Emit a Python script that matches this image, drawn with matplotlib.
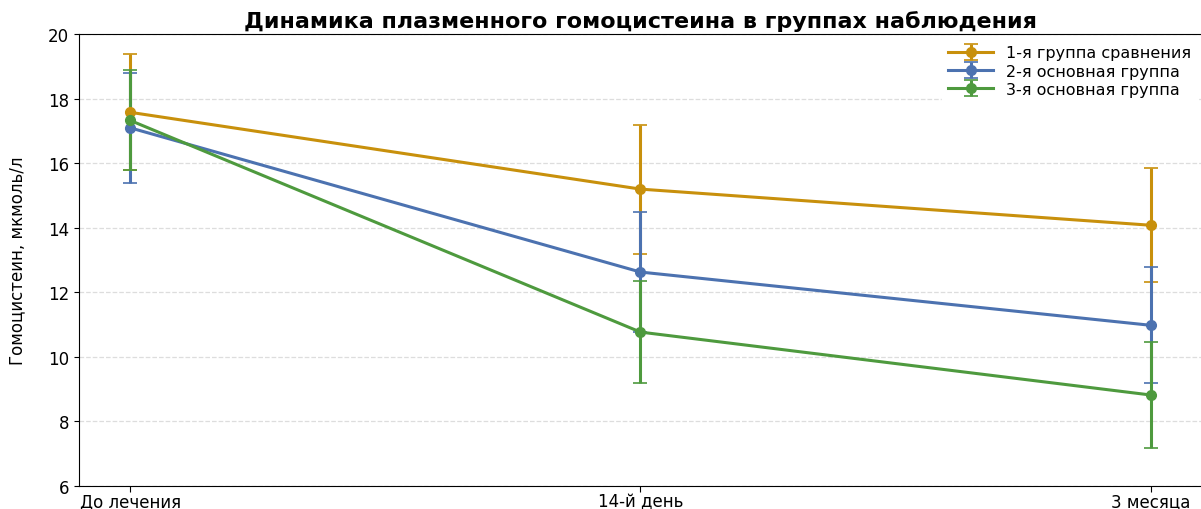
import numpy as np
import matplotlib.pyplot as plt

# Data
stages = ['До лечения', '14-й день', '3 месяца']
group_names = ['1-я группа сравнения', '2-я основная группа', '3-я основная группа']
group1_mean = [17.58, 15.2, 14.08]
group1_err = [1.8, 2.0, 1.76]
group2_mean = [17.1, 12.63, 10.98]
group2_err = [1.7, 1.85, 1.8]
group3_mean = [17.33, 10.77, 8.82]
group3_err = [1.55, 1.57, 1.64]
colors = ['#C8900C', '#4C72B0', '#4E9A3E']

x = np.arange(len(stages))

fig = plt.figure(figsize=(12.01, 5.10), dpi=100)
ax = fig.add_axes([0.0658, 0.045, 0.935, 0.886])

for mean, err, name, c in zip([group1_mean, group2_mean, group3_mean],
                              [group1_err, group2_err, group3_err],
                              group_names, colors):
    ax.errorbar(x, mean, yerr=err, color=c, marker='o', markersize=7,
                linewidth=2.2, elinewidth=2.2, capsize=5, capthick=1.2,
                label=name)

ax.set_xlim(-0.1, 2.1)
ax.set_ylim(6, 20)
ax.set_yticks(np.arange(6, 21, 2))
ax.set_xticks(x)
ax.set_xticklabels(stages, fontsize=12)
ax.tick_params(axis='x', length=4, pad=0.5)
ax.tick_params(axis='y', labelsize=12)
ax.set_ylabel('Гомоцистеин, мкмоль/л', fontsize=12, labelpad=16)
ax.yaxis.grid(True, linestyle='--', color='#dddddd', linewidth=0.9)
ax.set_axisbelow(True)
ax.set_title('Динамика плазменного гомоцистеина в группах наблюдения',
             fontsize=16, fontweight='bold', pad=5)

ax.legend(loc='upper right', fontsize=11.5, frameon=True, edgecolor='white',
          framealpha=1.0, handlelength=2.8, labelspacing=0.2,
          borderaxespad=0.3)

fig.savefig('out.png', dpi=100)
